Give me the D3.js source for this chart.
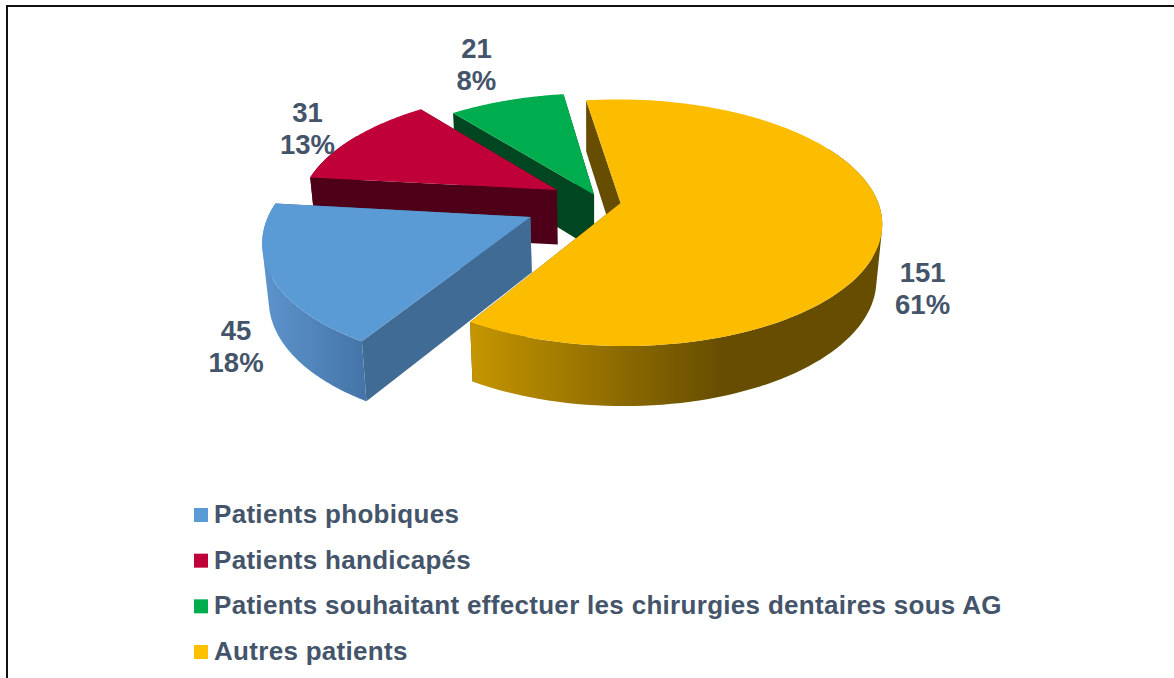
<!DOCTYPE html>
<html>
<head>
<meta charset="utf-8">
<script src="https://cdn.jsdelivr.net/npm/d3@7"></script>
<style>
  html, body { margin: 0; padding: 0; background: #fff; overflow: hidden; }
  text { font-family: "Liberation Sans", Arial, sans-serif; font-weight: bold; fill: #44546a; }
</style>
</head>
<body>
<div id="chart"></div>
<script>
const categories = [
  "Patients phobiques",
  "Patients handicapés",
  "Patients souhaitant effectuer les chirurgies dentaires sous AG",
  "Autres patients",
];
const patientCounts = [45, 31, 21, 151];
const topColors = ["#5b9bd5", "#c00039", "#00ad4e", "#fcbd00"];
const legendColors = ["#5b9bd5", "#c00039", "#00ad4e", "#ffc000"];
const cutColors = ["#3f6b94", "#4d0017", "#004621", "#664d00"];
const wallStops = [
  ["#5c94cc", "#4473a6"],
  ["#4d0017", "#4d0017"],
  ["#004621", "#004621"],
  ["#c49500", "#664d00"],
];

// each slice is pulled out by its own amount, like in the office chart
const explode = [76, 50, 15, 21];
const drawOrder = [2, 1, 0, 3];

const width = 1174;
const height = 678;
const svg = d3
  .select("#chart")
  .append("svg")
  .attr("width", width)
  .attr("height", height);

// frame: only top and left are visible
svg
  .append("path")
  .attr("d", "M7,678V6H1174")
  .attr("fill", "none")
  .attr("stroke", "#111")
  .attr("stroke-width", 2);

// fake 3D: flat pie on the floor, seen through a small perspective
const cx = 600;
const cy = 201;
const radius = 257;
const tilt = 0.465;
const persp = 0.16;
const depth = 55;

const project = (X, Y) => {
  const s = 1 / (1 - (persp * Y) / radius);
  return [cx + X * s, cy + Y * tilt * s];
};
// same point at the bottom of the pie wall
const lower = (X, Y) => {
  const s = 1 / (1 - (persp * Y) / radius);
  const p = project(X, Y);
  return [590 + (p[0] - 590) * 0.98, p[1] + depth * Math.sqrt(s)];
};

const pie = d3
  .pie()
  .sort(null)
  .startAngle((211 * Math.PI) / 180)
  .endAngle((571 * Math.PI) / 180);
const arcs = pie(patientCounts);
const total = d3.sum(patientCounts);
const line = d3.line();

const defs = svg.append("defs");
const wallRanges = [[263, 370], [300, 420], [450, 570], [472, 722]];
wallStops.forEach((stops, i) => {
  const g = defs
    .append("linearGradient")
    .attr("id", "wall" + i)
    .attr("gradientUnits", "userSpaceOnUse")
    .attr("x1", wallRanges[i][0])
    .attr("x2", wallRanges[i][1])
    .attr("y1", 0)
    .attr("y2", 0);
  g.append("stop").attr("offset", 0).attr("stop-color", stops[0]);
  g.append("stop").attr("offset", 1).attr("stop-color", stops[1]);
});

const sliceLayer = svg.append("g");
drawOrder.forEach((i) => {
  const d = arcs[i];
  const mid = (d.startAngle + d.endAngle) / 2;
  const ox = explode[i] * Math.sin(mid);
  const oy = -explode[i] * Math.cos(mid);

  const angles = d3
    .range(0, 121)
    .map((t) => d.startAngle + ((d.endAngle - d.startAngle) * t) / 120);
  const rimAt = (a) => [ox + radius * Math.sin(a), oy - radius * Math.cos(a)];
  const topRim = angles.map((a) => project(...rimAt(a)));
  const apexTop = project(ox, oy);
  const apexLow = lower(ox, oy);

  const g = sliceLayer.append("g");
  // the two cut faces
  [angles[0], angles[120]].forEach((a) => {
    const p = rimAt(a);
    g.append("path")
      .attr("d", line([apexTop, project(...p), lower(...p), apexLow]) + "Z")
      .attr("fill", cutColors[i]);
  });
  // outer wall: quads in one path so no seams, all wound the same way
  const front = angles.filter((a) => Math.cos(a) < 0.5);
  const wallPath = d3
    .pairs(front)
    .map(([a, b]) => {
      const quad = [
        project(...rimAt(a)),
        project(...rimAt(b)),
        lower(...rimAt(b)),
        lower(...rimAt(a)),
      ];
      if (d3.polygonArea(quad) < 0) quad.reverse();
      return line(quad) + "Z";
    })
    .join("");
  if (wallPath) {
    g.append("path").attr("d", wallPath).attr("fill", `url(#wall${i})`);
  }
  // top face
  g.append("path")
    .attr("d", line([apexTop].concat(topRim)) + "Z")
    .attr("fill", topColors[i]);
});

// data labels, placed from the mid angle of the slice
const labelRadius = [1.16, 1.2, 1.2, 1.16];
const labelNudge = [[10, 53], [-9, -6], [-15, -27], [-3, 50]];
arcs.forEach((d, i) => {
  const mid = (d.startAngle + d.endAngle) / 2;
  const r = radius * labelRadius[i] + explode[i];
  const p = project(r * Math.sin(mid), -r * Math.cos(mid));
  const label = svg
    .append("text")
    .attr("text-anchor", "middle")
    .attr("font-size", 27.5);
  label
    .append("tspan")
    .attr("x", p[0] + labelNudge[i][0])
    .attr("y", p[1] + labelNudge[i][1])
    .text(patientCounts[i]);
  label
    .append("tspan")
    .attr("x", p[0] + labelNudge[i][0])
    .attr("dy", 32)
    .text(Math.round((patientCounts[i] / total) * 100) + "%");
});

// legend
const legendY = d3.scalePoint().domain(categories).range([508, 645]);
const legend = svg
  .selectAll(".legend")
  .data(categories)
  .enter()
  .append("g")
  .attr("class", "legend")
  .attr("transform", (c) => `translate(194,${legendY(c)})`);
legend
  .append("rect")
  .attr("width", 14)
  .attr("height", 14)
  .attr("fill", (c, i) => legendColors[i]);
legend
  .append("text")
  .attr("x", 20)
  .attr("y", 15)
  .attr("font-size", 26)
  .attr("letter-spacing", 0.3)
  .text((c) => c);
</script>
</body>
</html>
